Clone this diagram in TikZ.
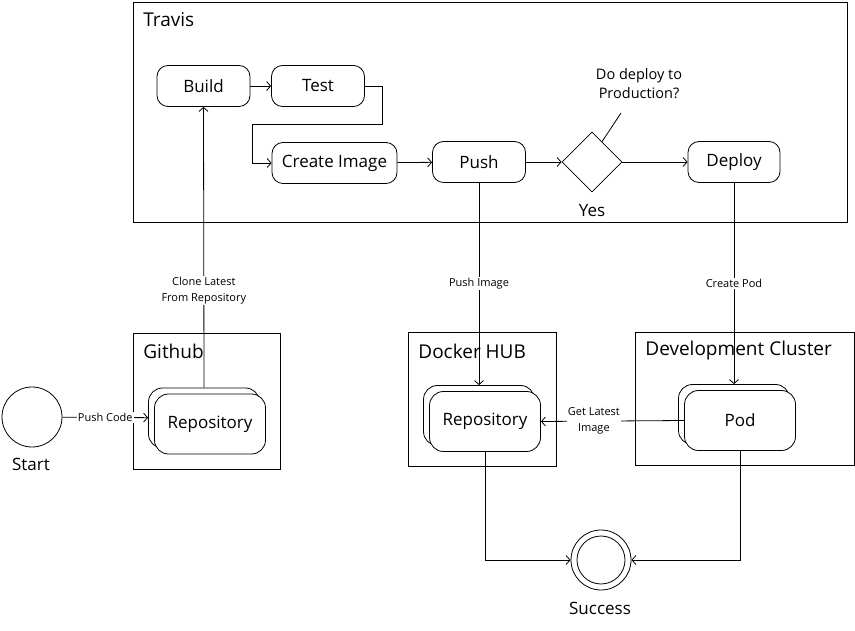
\documentclass[tikz,border=0pt]{standalone}
\usepackage{fontspec}
\setmainfont{Open Sans}
\usetikzlibrary{arrows.meta,shapes.geometric,calc}

\begin{document}
\begin{tikzpicture}[x=1pt,y=-1pt,
  line width=0.8pt, >={Straight Barb[length=4pt,width=9pt]},
  frame/.style={draw, inner sep=0pt},
  title/.style={anchor=west, inner sep=0pt, font=\fontsize{19}{22}\selectfont},
  act/.style={draw, rounded corners=11pt, inner sep=0pt, minimum height=41pt, font=\fontsize{17}{20}\selectfont},
  stackbox/.style={draw, fill=white, rounded corners=14pt, inner sep=0pt, minimum width=111pt, minimum height=60pt, font=\fontsize{17}{20}\selectfont},
  elabel/.style={fill=white, inner sep=1pt, align=center, font=\fontsize{11}{16}\selectfont},
  plain/.style={inner sep=0pt, align=center, font=\fontsize{17}{20}\selectfont}]
\useasboundingbox (0,0) rectangle (855,631);
% frames
\node[frame, minimum width=714pt, minimum height=220pt] (travis) at (490,112){};
\node[title] (travistitle) at (143,20){Travis};
\node[frame, minimum width=147pt, minimum height=136pt] (github) at (206.5,401){};
\node[title] (githubtitle) at (143,351){Github};
\node[frame, minimum width=148pt, minimum height=134pt] (dockerhub) at (482,399){};
\node[title] (dockertitle) at (418,351){Docker HUB};
\node[frame, minimum width=219pt, minimum height=133pt] (cluster) at (744.5,398.5){};
\node[title] (clustertitle) at (645,351){Development Cluster};
% travis steps
\node[act, minimum width=93pt] (build) at (203.5,86){Build};
\node[act, minimum width=93pt] (test) at (318,86){Test};
\node[act, minimum width=125pt] (create) at (334.5,163){Create Image};
\node[act, minimum width=93pt] (push) at (479,162){Push};
\node[draw, diamond, inner sep=0pt, minimum width=60pt, minimum height=60pt] (decision) at (592,162){};
\node[act, minimum width=92pt] (deploy) at (734,162){Deploy};
\node[plain, font=\fontsize{14.5}{19}\selectfont] (question) at (639,83.5){Do deploy to\\Production?};
\coordinate (questionend) at (621,113);
\node[plain] (yes) at (592,211){Yes};
% stacked boxes
\node[stackbox] (ghrepoback) at (204,418){};
\node[stackbox] (ghrepo) at (210,424){Repository};
\node[stackbox] (hubrepoback) at (479,415.5){};
\node[stackbox] (hubrepo) at (485,421.5){Repository};
\node[stackbox] (podback) at (734,414.5){};
\node[stackbox] (pod) at (740,420.5){Pod};
% start and end
\node[draw, circle, minimum size=60pt, inner sep=0pt] (start) at (32,417){};
\node[plain] (startlabel) at (31,464){Start};
\node[draw, circle, minimum size=60pt, inner sep=0pt] (success) at (601,560){};
\node[draw, circle, minimum size=48pt, inner sep=0pt] (successin) at (success.center){};
\node[plain] (successlabel) at (600,608){Success};
% connectors
\draw[->] (build) -- (test);
\draw[->] (test.east) -- ++(17,0) -- ++(0,38) -| ([xshift=-19pt]create.west) -- (create.west);
\draw[->] (create) -- (push);
\draw[->] (push) -- (decision);
\draw[->] (decision) -- (deploy);
\draw ($(decision.north)!0.33!(decision.east)$) -- (questionend);
\draw[->] (start) -- node[elabel]{Push Code} (ghrepoback);
\draw[->] (ghrepoback.north) -- node[elabel, pos=0.345]{Clone Latest\\From Repository} (build.south);
\draw[->] (push.south) -- node[elabel]{Push Image} (hubrepoback.north);
\draw[->] (deploy.south) -- node[elabel]{Create Pod} (podback.north);
\draw[->] (pod.west) -- node[elabel, pos=0.63]{Get Latest\\Image} (hubrepo.east);
\draw[->] (hubrepo.south) |- (success.west);
\draw[->] (pod.south) |- (success.east);
\end{tikzpicture}
\end{document}
